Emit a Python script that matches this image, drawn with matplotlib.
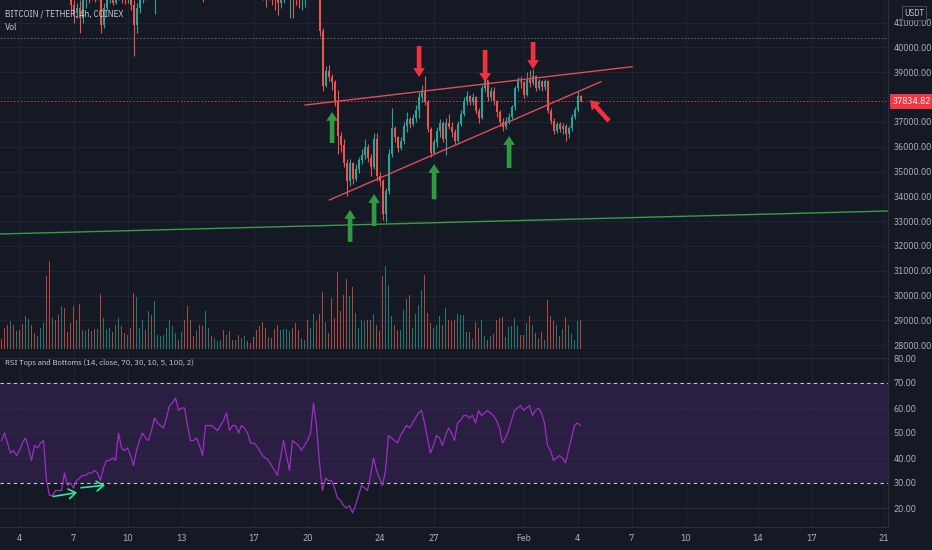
import numpy as np
import matplotlib
matplotlib.use('Agg')
import matplotlib.pyplot as plt
from matplotlib import font_manager
import matplotlib.transforms as mtransforms

# 4h candles, Jan 3 00:00 -> Feb 4 04:00
first_open = 47400
closes = [47100, 46800, 46600, 46900, 46300, 46400, 46100, 45800, 46300, 46700,
          46300, 45900, 46100, 46500, 46700, 45600, 43300, 43500, 43200, 42900,
          43300, 43100, 43000, 41700, 41400, 41600, 41200, 41900, 42100, 42000,
          42200, 42100, 42300, 40900, 41600, 41900, 42000, 41800, 42100, 42200,
          42000, 41900, 42100, 41700, 40900, 41600, 41900, 42300, 42200, 42500,
          42300, 42700, 42800, 43000, 43200, 43500, 43700, 43900, 44100, 43900,
          44200, 44000, 43200, 42800, 42600, 42700, 42500, 42400, 42900, 43000,
          42800, 43000, 43100, 43200, 43000, 43300, 43200, 43150, 43300, 43100,
          43200, 43400, 43200, 43100, 42900, 42700, 42500, 42300, 42200, 42300,
          42100, 42000, 41800, 41900, 42200, 42400, 42500, 42300, 42000, 41900,
          42300, 42600, 42400, 42800, 43000, 42600, 40650, 38450, 39050, 38800,
          38600, 37800, 36450, 36050, 35350, 34600, 35350, 34700, 35100, 35450,
          35650, 36000, 35550, 35200, 36300, 34800, 34600, 33300, 34200, 35700,
          36750, 36400, 35950, 36250, 36850, 37100, 36900, 37150, 37500, 38000,
          38250, 37800, 36700, 35750, 36200, 36650, 36950, 36300, 36950, 36800,
          36600, 36250, 36900, 37300, 37850, 38050, 37800, 38000, 37450, 37150,
          38350, 38700, 38000, 38250, 37850, 37400, 37000, 36800, 37050, 37200,
          37600, 38350, 38650, 38600, 38100, 38700, 38550, 38850, 38350, 38650,
          38400, 38650, 37450, 37050, 36650, 36900, 36700, 36850, 36500, 36750,
          37200, 37500, 38050, 37834.82]
highs = [47500, 47300, 47000, 47200, 47000, 46700, 46600, 46300, 46500, 47000,
         46900, 46400, 46300, 46800, 47100, 46900, 45700, 43800, 43700, 43400,
         43500, 43600, 43300, 43100, 41900, 41800, 41900, 42000, 42300, 42400,
         42500, 42400, 42600, 42400, 41800, 42100, 42300, 42200, 42300, 42500,
         42400, 42200, 42300, 42200, 41900, 41800, 42100, 42500, 42500, 42800,
         42700, 42900, 43100, 43300, 43500, 43800, 44000, 44200, 44400, 44300,
         44500, 44400, 44100, 43400, 43000, 43000, 42900, 42800, 43200, 43300,
         43200, 43300, 43400, 43500, 43400, 43600, 43500, 43400, 43600, 43400,
         43500, 43700, 43500, 43400, 43200, 43000, 42800, 42600, 42500, 42600,
         42400, 42300, 42100, 42200, 42500, 42700, 42800, 42600, 42400, 42200,
         42600, 43000, 42800, 43300, 43500, 43100, 42700, 40800, 39250, 39300,
         38950, 38700, 38300, 36600, 36300, 35500, 35500, 35400, 35300, 35600,
         35900, 36300, 36100, 35700, 36550, 36550, 35000, 34700, 34350, 35900,
         37550, 36850, 36450, 36400, 37000, 37400, 37200, 37300, 37700, 38200,
         38500, 38850, 37900, 36800, 36300, 36800, 37100, 37050, 37150, 37300,
         37000, 36700, 37050, 37500, 38000, 38250, 38100, 38150, 38050, 37550,
         38500, 38800, 38700, 38400, 38400, 37900, 37500, 37150, 37200, 37350,
         37700, 38450, 38800, 38850, 38650, 39000, 39100, 39150, 38900, 38750,
         38700, 38750, 38700, 37550, 37150, 37000, 37000, 36950, 36900, 36850,
         37300, 37600, 38250, 38100]
lows = [46700, 46500, 46300, 46400, 46100, 46000, 45800, 45500, 45600, 46100,
        46000, 45700, 45600, 45900, 46300, 45300, 42900, 42700, 42800, 42500,
        42700, 42800, 42600, 41500, 41000, 41200, 40580, 41000, 41600, 41800,
        41900, 41850, 41900, 40580, 40800, 41500, 41800, 41700, 41750, 41900,
        41800, 41750, 41800, 41500, 39660, 40600, 41400, 41800, 41900, 42000,
        41950, 41350, 42300, 42600, 42800, 43000, 43300, 43500, 43700, 43600,
        43800, 43600, 43000, 42500, 42200, 42300, 42200, 41850, 42300, 42600,
        42500, 42600, 42800, 42900, 42800, 42900, 42900, 42800, 42900, 42800,
        42900, 43000, 42900, 42800, 42600, 42400, 42200, 41900, 41630, 41900,
        41700, 41500, 41310, 41600, 41800, 42000, 41200, 41190, 41700, 41600,
        41510, 41630, 42000, 42200, 42500, 42200, 40450, 38250, 38400, 38650,
        38300, 37650, 35700, 35800, 35200, 34000, 34400, 34500, 34600, 34950,
        35300, 35500, 35400, 34800, 35100, 34600, 34400, 33050, 32950, 34100,
        35600, 36200, 35800, 35850, 36100, 36600, 36750, 36850, 37000, 37150,
        37800, 37700, 36600, 35600, 35700, 36000, 36400, 36200, 35650, 36700,
        36400, 36100, 36200, 36850, 37250, 37700, 37700, 37700, 37300, 36950,
        37100, 38200, 37850, 37900, 37700, 37200, 36850, 36650, 36700, 36900,
        37100, 37500, 38250, 38350, 37950, 38050, 38400, 38500, 38250, 38300,
        38250, 38300, 37350, 36900, 36500, 36550, 36600, 36500, 36250, 36350,
        36650, 37100, 37400, 37800]
volumes = [10, 21, 24, 28, 24, 18, 19, 25, 33, 30, 24, 16, 13, 21, 26, 73, 88, 31, 29, 34,
           43, 41, 17, 26, 43, 29, 45, 19, 18, 20, 18, 20, 20, 55, 31, 20, 21, 17, 24, 31,
           23, 16, 14, 21, 56, 52, 21, 29, 19, 38, 34, 48, 14, 13, 14, 21, 29, 23, 16, 9,
           17, 29, 43, 29, 13, 18, 24, 23, 38, 21, 13, 11, 8, 9, 19, 14, 18, 9, 9, 14,
           11, 13, 8, 6, 12, 19, 23, 27, 21, 12, 11, 20, 24, 19, 20, 20, 18, 21, 26, 19,
           11, 9, 29, 21, 35, 28, 35, 57, 27, 16, 51, 31, 77, 38, 54, 70, 53, 62, 36, 21,
           29, 28, 29, 29, 35, 24, 18, 73, 83, 64, 33, 24, 19, 19, 39, 50, 54, 21, 35, 44,
           59, 74, 36, 26, 21, 24, 33, 24, 41, 29, 28, 29, 35, 34, 34, 17, 17, 10, 27, 21,
           29, 13, 9, 13, 15, 29, 31, 32, 12, 22, 23, 31, 23, 14, 14, 26, 33, 24, 16, 11,
           17, 9, 49, 33, 28, 24, 13, 20, 32, 24, 15, 9, 28, 29]
rsi = [47, 50, 46, 42, 43, 41, 43, 46, 48, 44, 39, 45, 44, 46, 47, 31, 25, 25, 27, 27,
       27, 34, 29, 30, 28, 31, 32, 33, 33, 34, 34, 35, 34, 31, 36, 39, 39, 40, 39, 50,
       44, 43, 44, 41, 37, 43, 47, 50, 48, 47, 51, 56, 54, 53, 52, 56, 61, 62, 64, 59,
       60, 60, 53, 47, 47, 48, 45, 41, 53, 53, 53, 52, 51, 53, 55, 58, 51, 53, 53, 50,
       53, 52, 50, 46, 46, 45, 43, 41, 40, 39, 37, 35, 33, 40, 47, 41, 35, 47, 46, 45,
       43, 45, 47, 50, 62, 53, 38, 27, 32, 31, 31, 28, 24, 23, 21, 20, 21, 18, 21, 25,
       29, 28, 27, 33, 40, 35, 32, 29, 35, 49, 48, 47, 46, 49, 51, 53, 52, 54, 56, 58,
       59, 54, 48, 42, 45, 49, 48, 45, 49, 52, 50, 47, 54, 55, 57, 57, 56, 57, 54, 59,
       57, 58, 59, 58, 57, 55, 52, 46, 48, 51, 55, 59, 60, 61, 59, 60, 61, 57, 59, 60,
       58, 54, 45, 43, 39, 40, 41, 40, 38, 43, 48, 53, 54, 53]

last_price = 37834.82
ref_level = 40380
price_ticks = list(range(28000, 42000, 1000))
rsi_ticks = [20, 30, 40, 50, 60, 70, 80]
date_pos = [6, 24, 42, 60, 84, 102, 126, 144, 174, 192, 210, 228, 252, 270, 294]
date_labels = ['4', '7', '10', '13', '17', '20', '24', '27', 'Feb', '4', '7', '10', '14', '17', '21']

# drawings: (candle index, price)
upper_line = [(101.2, 37680), (210.2, 39226)]
lower_line = [(109.3, 33851), (199.8, 38621)]
green_line = [(-0.5, 32481), (295.5, 33408)]
red_arrows = [((139.2, 40060), (139.2, 38810)),
              ((161.2, 39900), (161.2, 38610)),
              ((177.2, 40220), (177.2, 39130)),
              ((202.5, 37037), (196.2, 37883))]
green_arrows = [((110.2, 36150), (110.2, 37400)),
                ((116.2, 32160), (116.2, 33450)),
                ((124.2, 32800), (124.2, 34090)),
                ((144.2, 33880), (144.2, 35300)),
                ((169.2, 35140), (169.2, 36430))]
rsi_arrows = [((17.2, 24.6), (25.2, 26.2)), ((26.5, 28.1), (34.5, 29.1))]

BG = '#151924'
GRID = '#212532'
TXT = '#b2b5be'
UP = '#26a69a'
DOWN = '#ef5350'
VUP = '#1f7a72'
VDOWN = '#b0463f'

names = {f.name for f in font_manager.fontManager.ttflist}
cond = 'IBM Plex Sans Condensed'
if cond not in names:
    cond = 'Liberation Sans'
plt.rcParams['font.family'] = [cond, 'DejaVu Sans']

W, H = 932, 550
fig = plt.figure(figsize=(W / 100, H / 100), dpi=100, facecolor=BG)
pane_w = 888 / W
ax = fig.add_axes([0, 201 / H, pane_w, 349 / H], facecolor=BG)
ax_vol = fig.add_axes([0, 201 / H, pane_w, 349 / H])
ax_rsi = fig.add_axes([0, 23 / H, pane_w, 178 / H], facecolor=BG)

n = len(closes)
x = np.arange(n)
c = np.array(closes, dtype=float)
o = np.array([first_open] + closes[:-1], dtype=float)
h = np.array(highs, dtype=float)
l = np.array(lows, dtype=float)
up = c >= o
ccol = np.where(up, UP, DOWN)

xlim = (-0.5, 295.5)

for a in (ax, ax_rsi):
    a.set_xlim(*xlim)
    for xp in date_pos:
        a.axvline(xp, color=GRID, lw=0.7, zorder=1)
    for s in ['top', 'left']:
        a.spines[s].set_visible(False)
    a.spines['right'].set_color('#2a2e39')
    a.spines['bottom'].set_color('#2a2e39')
    a.yaxis.tick_right()
    a.tick_params(axis='y', length=0, pad=4, labelsize=6.8, labelcolor=TXT)

# price pane
ax.set_ylim(27844, 41915)
for p in price_ticks:
    ax.axhline(p, color=GRID, lw=0.7, zorder=1)
ax.set_yticks(price_ticks)
ax.set_yticklabels([f'{p:.2f}' for p in price_ticks])
ax.set_xticks([])

ax.vlines(x, l, h, colors=ccol, lw=0.8, zorder=3)
body = np.maximum(np.abs(c - o), 25)
ax.bar(x, body, bottom=np.minimum(o, c), width=0.62, color=ccol, lw=0, zorder=4)

ax.axhline(ref_level, color='#6b6e78', lw=0.7, ls=(0, (1.5, 2)), zorder=2)
ax.axhline(last_price, color=DOWN, lw=0.7, ls=(0, (1.5, 2)), alpha=0.8, zorder=2)

ax.plot(*zip(*upper_line), color='#e04c5a', lw=1.0, zorder=5)
ax.plot(*zip(*lower_line), color='#e04c5a', lw=1.0, zorder=5)
ax.plot(*zip(*green_line), color='#3d9a46', lw=1.0, zorder=5)

arrow_style = 'simple,head_length=0.8,head_width=1.05,tail_width=0.42'
for tail, tip in red_arrows:
    ax.annotate('', xy=tip, xytext=tail, zorder=6,
                arrowprops=dict(arrowstyle=arrow_style, mutation_scale=8,
                                color='#f0323f', lw=0, shrinkA=0, shrinkB=0))
for tail, tip in green_arrows:
    ax.annotate('', xy=tip, xytext=tail, zorder=6,
                arrowprops=dict(arrowstyle=arrow_style, mutation_scale=8,
                                color='#2f9a40', lw=0, shrinkA=0, shrinkB=0))

# volume overlay
ax_vol.set_xlim(*xlim)
ax_vol.set_ylim(0, max(volumes) * 349 / 88)
ax_vol.bar(x, volumes, width=0.62, color=np.where(up, VUP, VDOWN), lw=0)
ax_vol.set_axis_off()
ax_vol.patch.set_alpha(0)

# RSI pane
ax_rsi.set_ylim(12.4, 83.6)
ax_rsi.axhspan(30, 70, color='#2a1e42', lw=0, zorder=0.5)
for r in [20, 40, 50, 60, 80]:
    ax_rsi.axhline(r, color='#2c2b3e', lw=0.7, zorder=1)
for r in [30, 70]:
    ax_rsi.axhline(r, color='#c9c9d2', lw=0.8, ls=(0, (3, 3)), zorder=2)
ax_rsi.plot(x, rsi, color='#9c2fc4', lw=0.9, zorder=4)
for tail, tip in rsi_arrows:
    ax_rsi.annotate('', xy=tip, xytext=tail, zorder=6,
                    arrowprops=dict(arrowstyle='->,head_length=0.5,head_width=0.35',
                                    color='#2ee6a0', lw=1.2, shrinkA=0, shrinkB=0))
ax_rsi.set_yticks(rsi_ticks)
ax_rsi.set_yticklabels([f'{r:.2f}' for r in rsi_ticks])
ax_rsi.set_xticks(date_pos)
ax_rsi.set_xticklabels(date_labels)
ax_rsi.tick_params(axis='x', length=0, pad=5, labelsize=7, labelcolor=TXT)

# labels
fig.text(5 / W, 1 - 14 / H, 'BITCOIN / TETHER, 4h, COINEX', color='#c8cad2',
         fontsize=6.6, va='center', ha='left')
fig.text(5 / W, 1 - 28 / H, 'Vol', color='#c8cad2', fontsize=6.8, va='center', ha='left')
fig.text(5 / W, 1 - 363 / H, 'RSI Tops and Bottoms (14, close, 70, 30, 10, 5, 100, 2)',
         color='#c8cad2', fontsize=6.1, va='center', ha='left')

trans = mtransforms.blended_transform_factory(ax.transAxes, ax.transData)
ax.text(1 + 5 / 888, last_price, f'{last_price:.2f}', transform=trans, color='white',
        fontsize=6.8, va='center', ha='left', zorder=10, clip_on=False,
        bbox=dict(boxstyle='square,pad=0.32', fc='#f23645', ec='none'))
fig.text(914 / W, 1 - 13 / H, 'USDT', color='#c8cad2', fontsize=6.4, va='center',
         ha='center', bbox=dict(boxstyle='square,pad=0.25', fc=BG, ec='#4a4d57', lw=0.7))

fig.savefig('out.png', dpi=100, facecolor=BG)
